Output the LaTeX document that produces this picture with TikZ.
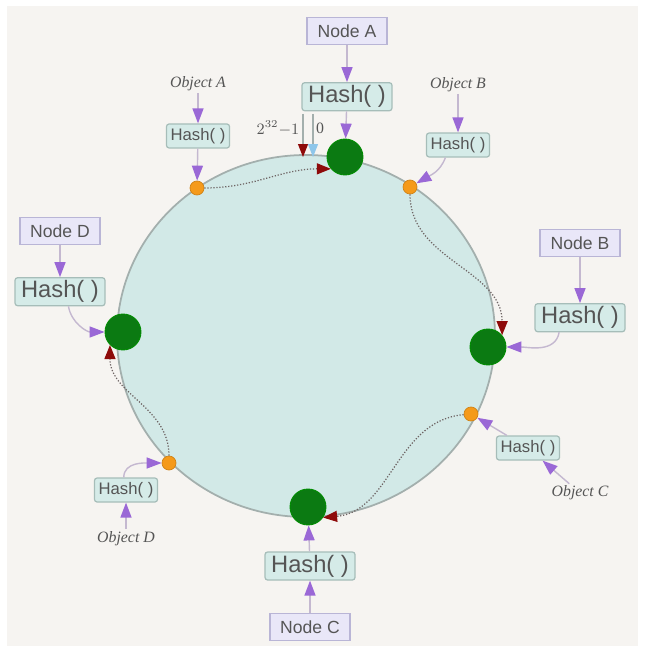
\documentclass[tikz,border=0pt]{standalone}
\usepackage{fontspec}
\setmainfont{Liberation Serif}
\setsansfont{Liberation Sans}
\usetikzlibrary{positioning,arrows.meta}

\definecolor{ringfill}{HTML}{D2E9E7}
\definecolor{ringline}{HTML}{A3AFAD}
\definecolor{srvgreen}{HTML}{0B7A12}
\definecolor{keyorange}{HTML}{F59A1A}
\definecolor{nodefill}{HTML}{E9E7F8}
\definecolor{nodeline}{HTML}{B9B5D6}
\definecolor{hashfill}{HTML}{D5EBE8}
\definecolor{hashline}{HTML}{A6BDB9}
\definecolor{tippurple}{HTML}{9A68D6}
\definecolor{feedline}{HTML}{C4B8D0}
\definecolor{mapline}{HTML}{6E6464}
\definecolor{tipred}{HTML}{8E0A0A}
\definecolor{tipblue}{HTML}{8EC6EA}
\definecolor{paper}{HTML}{F6F4F1}
\definecolor{labtext}{HTML}{555555}

\begin{document}
\begin{tikzpicture}[x=0.02cm,y=-0.02cm,node distance=6mm,
  srv/.style={circle,fill=srvgreen,draw=green!55!black,line width=0.5pt,minimum size=7.2mm,inner sep=0pt},
  key/.style={circle,fill=keyorange,draw=keyorange!85!black,line width=0.4pt,minimum size=2.8mm,inner sep=0pt},
  nbox/.style={draw=nodeline,fill=nodefill,line width=0.7pt,minimum width=16mm,minimum height=5.4mm,inner sep=0pt,font=\sffamily\fontsize{10}{12}\selectfont,text=labtext},
  hbig/.style={draw=hashline,fill=hashfill,rounded corners=1.5pt,line width=0.7pt,minimum width=18mm,minimum height=5.6mm,inner sep=0pt,font=\sffamily\fontsize{13.5}{15}\selectfont,text=labtext},
  hsmall/.style={hbig,minimum width=12.6mm,minimum height=4.8mm,font=\sffamily\fontsize{9.5}{11}\selectfont},
  obj/.style={font=\itshape\fontsize{9}{11}\selectfont,text=labtext,inner sep=1pt},
  num/.style={font=\fontsize{9}{11}\selectfont,text=labtext,inner sep=1pt},
  feed/.style={draw=feedline,line width=0.8pt,-{Triangle[length=3mm,width=2.2mm,color=tippurple]}},
  map/.style={draw=mapline,densely dotted,line width=0.7pt,-{Triangle[length=2.8mm,width=2.2mm,color=tipred]}}]

\useasboundingbox[fill=white] (0,0) rectangle (646,658);
\fill[paper] (7,6) rectangle (638,646);

% the ring
\filldraw[fill=ringfill,draw=ringline,line width=1pt] (306,336) ellipse [x radius=189,y radius=181];

% servers on the ring
\node[srv] (sA) at (345,157) {};
\node[srv] (sB) at (488,347) {};
\node[srv] (sC) at (308,507) {};
\node[srv] (sD) at (123,332) {};

% keys on the ring
\node[key] (kA) at (197,188) {};
\node[key] (kB) at (410,187) {};
\node[key] (kC) at (471,414) {};
\node[key] (kD) at (169,463) {};

% server boxes
\node[nbox] (nA) at (347,31) {Node A};
\node[hbig, below=7.4mm of nA] (hA) {Hash(~)};
\node[nbox] (nB) at (580,243) {Node B};
\node[hbig, below=9.2mm of nB] (hB) {Hash(~)};
\node[hbig] (hC) at (310,566) {Hash(~)};
\node[nbox, below=6.4mm of hC] (nC) {Node C};
\node[nbox] (nD) at (60,231) {Node D};
\node[hbig, below=6.4mm of nD] (hD) {Hash(~)};

% object boxes
\node[hsmall] (ohA) at (198,136) {Hash(~)};
\node[obj, above=6mm of ohA] (oA) {Object A};
\node[hsmall] (ohB) at (458,145) {Hash(~)};
\node[obj, above=7.7mm of ohB] (oB) {Object B};
\node[hsmall] (ohC) at (528,448) {Hash(~)};
\node[obj] (oC) at (580,493) {Object C};
\node[hsmall] (ohD) at (126,490) {Hash(~)};
\node[obj, below=5.3mm of ohD] (oD) {Object D};

% 0 and 2^32-1
\coordinate (top1) at (303,114);
\coordinate (end1) at (303,157);
\coordinate (top0) at (313,114);
\coordinate (end0) at (313,157);
\node[num] (lmax) at (278,128) {$2^{32}{-}1$};
\node[num] (lzero) at (320,128) {0};

\path[feed] (nA) edge (hA) (hA) edge (sA);
\path[feed] (nB) edge (hB);
\path[feed] (hB.-145) to[out=-100,in=0] (sB);
\path[feed] (nC) edge (hC) (hC) edge (sC);
\path[feed] (nD) edge (hD);
\path[feed] (hD.-60) to[out=-80,in=180] (sD);
\path[feed] (oA) edge (ohA) (ohA) edge (kA);
\path[feed] (oB) edge (ohB);
\path[feed] (ohB.-135) to[out=-110,in=30] (kB);
\path[feed] (oC) edge (ohC) (ohC) edge (kC);
\path[feed] (oD) edge (ohD);
\path[feed] (ohD.100) to[out=90,in=180] (kD);

\draw[draw=ringline,line width=0.6pt,-{Triangle[length=2.6mm,width=2mm,color=tipred]}] (top1) -- (end1);
\draw[draw=ringline,line width=0.6pt,-{Triangle[length=2.6mm,width=2mm,color=tipblue]}] (top0) -- (end0);

\path[map] (kA) edge[out=0,in=180] (sA.220);
\path[map] (kB) edge[out=-90,in=90] (sB.40);
\path[map] (kC) edge[out=185,in=5] (sC.-35);
\path[map] (kD) edge[out=90,in=-90] (sD.225);
\end{tikzpicture}
\end{document}
